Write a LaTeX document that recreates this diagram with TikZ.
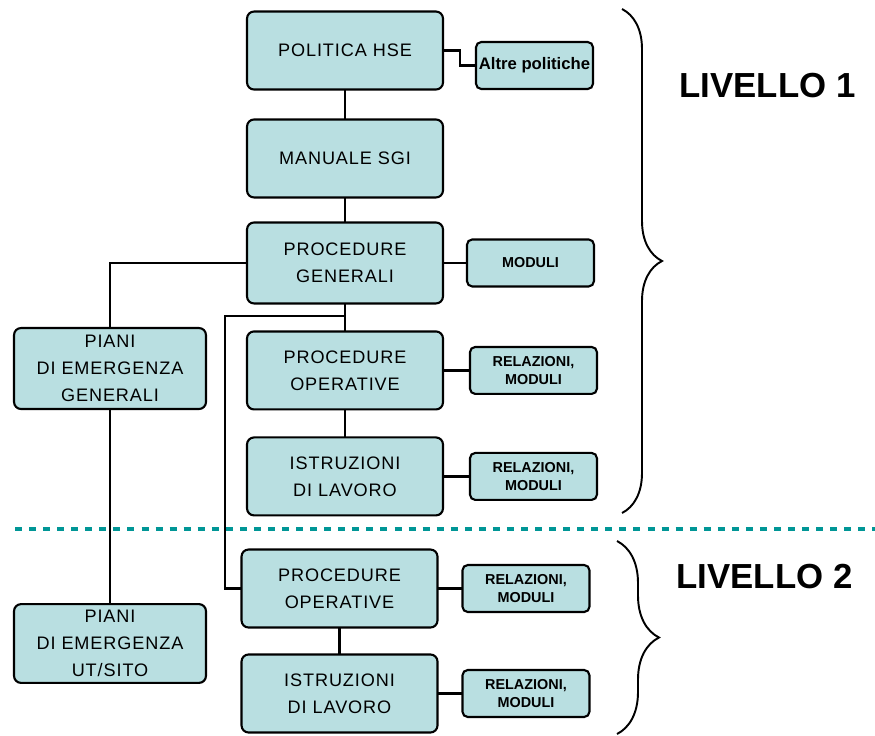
\documentclass[tikz,border=0pt]{standalone}
\usepackage{fontspec}
\setmainfont{Liberation Sans}
\newfontfamily\boxfont[LetterSpace=5]{Liberation Sans}
\usetikzlibrary{positioning,decorations.pathreplacing}
\definecolor{boxfill}{RGB}{185,223,225}
\definecolor{sepline}{RGB}{0,150,150}
\tikzset{
  bigbox/.style={draw=black, line width=1.2pt, rounded corners=4pt, fill=boxfill,
    minimum width=3.92cm, minimum height=1.56cm, outer sep=0pt, align=center,
    font=\boxfont\fontsize{10.3}{15.5}\selectfont},
  smallbox/.style={draw=black, line width=1.2pt, rounded corners=3pt, fill=boxfill,
    minimum width=2.54cm, minimum height=0.94cm, outer sep=0pt, inner sep=0pt, align=center,
    font=\bfseries\fontsize{8.2}{10.2}\selectfont},
  conn/.style={line width=1.6pt},
  lvltext/.style={font=\bfseries\fontsize{19.8}{24}\selectfont},
  lbrace/.style={decorate, decoration={brace, amplitude=#1}, line width=1.1pt},
  sep/.style={draw=sepline, line width=2.5pt, dash pattern=on 4pt off 4pt}
}
\begin{document}
\begin{tikzpicture}[x=0.02cm, y=-0.02cm]
    \useasboundingbox (0,0) rectangle (875,735);
    \node[bigbox] (pol) at (345,50.5) {POLITICA HSE};
    \node[bigbox, below=0.6cm of pol] (man) {MANUALE SGI};
    \node[bigbox, below=0.5cm of man, minimum height=1.62cm] (pgen) {PROCEDURE\\GENERALI};
    \node[bigbox, below=0.56cm of pgen] (pop1) {PROCEDURE\\OPERATIVE};
    \node[bigbox, below=0.56cm of pop1] (ist1) {ISTRUZIONI\\DI LAVORO};
    \node[bigbox] (pop2) at (339.5,588.5) {PROCEDURE\\OPERATIVE};
    \node[bigbox, below=0.54cm of pop2] (ist2) {ISTRUZIONI\\DI LAVORO};
    \node[bigbox, minimum width=3.84cm, minimum height=1.62cm] (pianig) at (110,368.5) {PIANI\\DI EMERGENZA\\GENERALI};
    \node[bigbox, minimum width=3.84cm] (pianiu) at (110,643.5) {PIANI\\DI EMERGENZA\\UT/SITO};

    \node[smallbox, minimum width=2.34cm, font=\bfseries\fontsize{9.5}{11}\selectfont] (altre) at (534.5,65.5) {Altre politiche};
    \node[smallbox, right=0.48cm of pgen] (moduli) {MODULI};
    \node[smallbox, right=0.54cm of pop1] (rel1) {RELAZIONI,\\MODULI};
    \node[smallbox, right=0.54cm of ist1] (rel2) {RELAZIONI,\\MODULI};
    \node[smallbox, right=0.5cm of pop2] (rel3) {RELAZIONI,\\MODULI};
    \node[smallbox, right=0.5cm of ist2] (rel4) {RELAZIONI,\\MODULI};

    \coordinate (fork) at (345,316);
    \coordinate (bend) at (225,316);
    \draw[conn] (pol) -- (man) -- (pgen) -- (pop1) -- (ist1);
    \draw[conn] (pop2) -- (ist2);
    \draw[conn] (pol.east) -- ++(17,0) |- (altre.west);
    \draw[conn] (pgen) -- (moduli);
    \draw[conn] (pop1) -- (rel1);
    \draw[conn] (ist1) -- (rel2);
    \draw[conn] (pop2) -- (rel3);
    \draw[conn] (ist2) -- (rel4);
    \draw[conn] (pgen.west) -| (pianig.north);
    \draw[conn] (pianig) -- (pianiu);
    \draw[conn] (fork) -- (bend) |- (pop2.west);

    \coordinate (sepL) at (15,529);
    \coordinate (sepR) at (875,529);
    \draw[sep] (sepL) -- (sepR);

    \draw[lbrace=0.8cm] (622,9) -- (622,513);
    \draw[lbrace=0.84cm] (617,541) -- (617,734);
    \node[lvltext] (lv1) at (767.5,85.5) {LIVELLO 1};
    \node[lvltext] (lv2) at (764.5,576.5) {LIVELLO 2};
\end{tikzpicture}
\end{document}
